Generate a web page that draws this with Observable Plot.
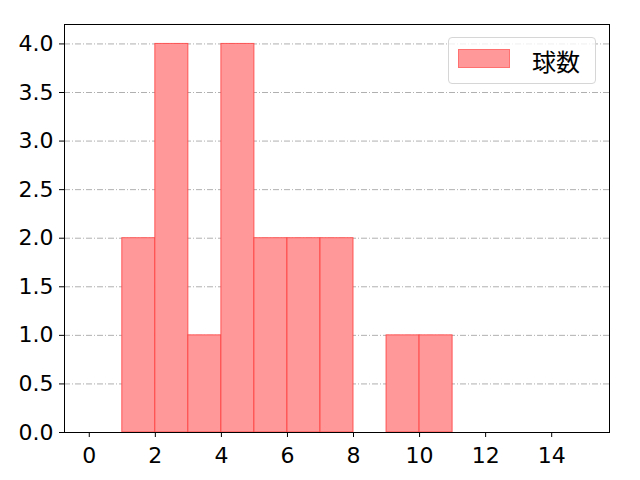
<!DOCTYPE html>
<html>
<head>
<meta charset="utf-8">
<script src="https://cdn.jsdelivr.net/npm/d3@7"></script>
<script src="https://cdn.jsdelivr.net/npm/@observablehq/plot@0.6"></script>
<style>
  body { margin: 0; background: white; }
  #wrap { position: relative; width: 640px; height: 480px; font-family: "DejaVu Sans", "Noto Sans CJK JP", sans-serif; }
  #legend { position: absolute; left: 448px; top: 37px; width: 146px; height: 45px; border: 1px solid #d6d6d6; border-radius: 4px; background: rgba(255,255,255,0.8); }
  #legend .sw { position: absolute; left: 9px; top: 11px; width: 52px; height: 19px; background: #ff9999; border: 1px solid #ff7070; box-sizing: border-box; }
  #legend .lb { position: absolute; left: 83px; top: 0; height: 45px; line-height: 45px; font-size: 24px; color: #000; font-family: "Noto Sans CJK JP", sans-serif; }
</style>
</head>
<body>
<div id="wrap"></div>
<script>
const binStarts = [0, 1, 2, 3, 4, 5, 6, 7, 8, 9, 10, 11, 12, 13, 14];
const counts    = [0, 2, 4, 1, 4, 2, 2, 2, 0, 1, 1, 0, 0, 0, 0];
const binWidth = 1;
const xTicks = [0, 2, 4, 6, 8, 10, 12, 14];
const yTicks = [0, 0.5, 1, 1.5, 2, 2.5, 3, 3.5, 4];
const seriesName = "球数";

const data = binStarts.map((s, i) => ({x1: s, x2: s + binWidth, y: counts[i]}));

const chart = Plot.plot({
  width: 640,
  height: 480,
  marginLeft: 64,
  marginRight: 31,
  marginTop: 24,
  marginBottom: 48,
  style: {fontSize: "22px", fontFamily: "'DejaVu Sans', sans-serif", color: "#000", background: "white"},
  x: {domain: [-0.75, 15.75], ticks: xTicks, tickFormat: d3.format("d")},
  y: {domain: [0, 4.2], ticks: yTicks, tickFormat: d3.format(".1f")},
  marks: [
    Plot.gridY(yTicks, {stroke: "#b0b0b0", strokeOpacity: 1, strokeWidth: 1, strokeDasharray: "6,2,1,2"}),
    Plot.rectY(data, {x1: "x1", x2: "x2", y: "y", fill: "#ff9999", stroke: "#ff3b3b", strokeOpacity: 0.8, strokeWidth: 1}),
    Plot.axisX({ticks: xTicks, tickSize: 5, tickPadding: 10, label: null, tickFormat: d3.format("d")}),
    Plot.axisY({ticks: yTicks, tickSize: 5, tickPadding: 6, label: null, tickFormat: d3.format(".1f")}),
    Plot.frame({stroke: "black", strokeWidth: 1})
  ]
});

const wrap = document.getElementById("wrap");
wrap.appendChild(chart);
const legend = document.createElement("div");
legend.id = "legend";
legend.innerHTML = `<div class="sw"></div><div class="lb">${seriesName}</div>`;
wrap.appendChild(legend);
</script>
</body>
</html>
